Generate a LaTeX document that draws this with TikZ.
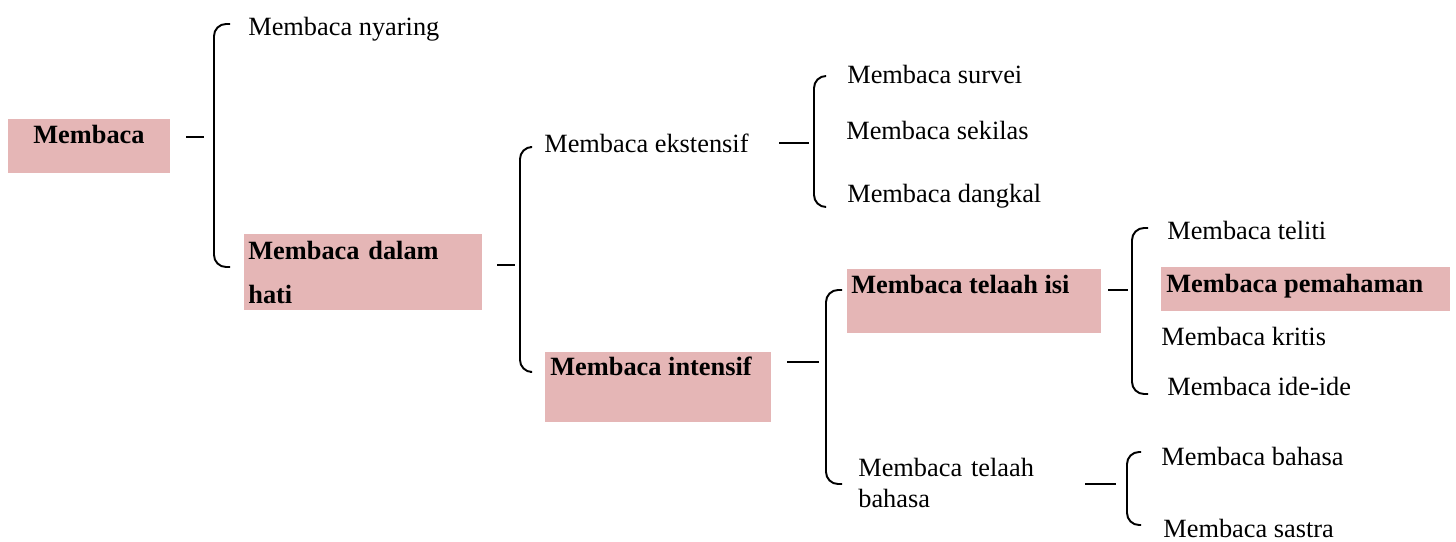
\documentclass[tikz,border=0pt]{standalone}
\usepackage{fontspec}
\setmainfont{Liberation Serif}
\usetikzlibrary{positioning}
\definecolor{boxpink}{RGB}{229,182,182}

\begin{document}
\begin{tikzpicture}[x=0.02cm,y=-0.02cm,
        leaf/.style={anchor=base west,inner sep=0pt,font=\fontsize{15}{18}\selectfont},
        head/.style={leaf,font=\fontsize{15}{18}\selectfont\bfseries},
        shade/.style={anchor=north west,fill=boxpink,inner sep=0pt},
        bracket/.style={line width=1.1pt,rounded corners=0.24cm},
        stub/.style={line width=1.1pt}
    ]
    \useasboundingbox (0,0) rectangle (1456,541);

% pink boxes behind the bold items
    \node[shade,minimum width=3.24cm,minimum height=1.08cm] (membacabox) at (8,119) {};
    \node[shade,minimum width=4.76cm,minimum height=1.52cm] (dalambox) at (244,234) {};
    \node[shade,minimum width=4.52cm,minimum height=1.40cm] (intensifbox) at (545,352) {};
    \node[shade,minimum width=5.08cm,minimum height=1.28cm] (isibox) at (847,269) {};
    \node[shade,minimum width=5.78cm,minimum height=0.88cm] (pemahamanbox) at (1161,267) {};

% texts
    \node[head] (membaca) at (33,143) {Membaca};
    \node[leaf] (nyaring) at (248,35) {Membaca nyaring};
    \node[head,text width=4.5cm,align=left] (dalam) at (248,259) {Membaca dalam\\[7.6pt]hati};
    \node[leaf] (ekstensif) at (544,152) {Membaca ekstensif};
    \node[head] (intensif) at (550,375) {Membaca intensif};
    \node[leaf] (survei) at (847,83) {Membaca survei};
    \node[leaf] (sekilas) at (846,139) {Membaca sekilas};
    \node[leaf] (dangkal) at (847,202) {Membaca dangkal};
    \node[head] (isi) at (851,293) {Membaca telaah isi};
    \node[leaf,text width=4cm,align=left] (telaahbahasa) at (858,476) {Membaca telaah\\bahasa};
    \node[leaf] (teliti) at (1167,239) {Membaca teliti};
    \node[head] (pemahaman) at (1166,292) {Membaca pemahaman};
    \node[leaf] (kritis) at (1161,345) {Membaca kritis};
    \node[leaf] (ide) at (1167,395) {Membaca ide-ide};
    \node[leaf] (bahasa) at (1161,465) {Membaca bahasa};
    \node[leaf] (sastra) at (1163,537) {Membaca sastra};

% brackets: spine x / top / bottom / hook end
    \foreach \x/\t/\b/\h in {214/24/267/230, 520/147/372/530, 814/76/207/826,
                             826/290/484/842, 1132/228/394/1148, 1127/452/525/1141}
        {
        \draw[bracket] (\h,\t) -- (\x,\t) -- (\x,\b) -- (\h,\b);
        }

% short dashes in front of the brackets
    \foreach \a/\b/\y in {186/204/137, 497/515/265, 779/809/143,
                          787/819/362, 1108/1128/290, 1085/1116/484}
        {
        \draw[stub] (\a,\y) -- (\b,\y);
        }

\end{tikzpicture}
\end{document}
